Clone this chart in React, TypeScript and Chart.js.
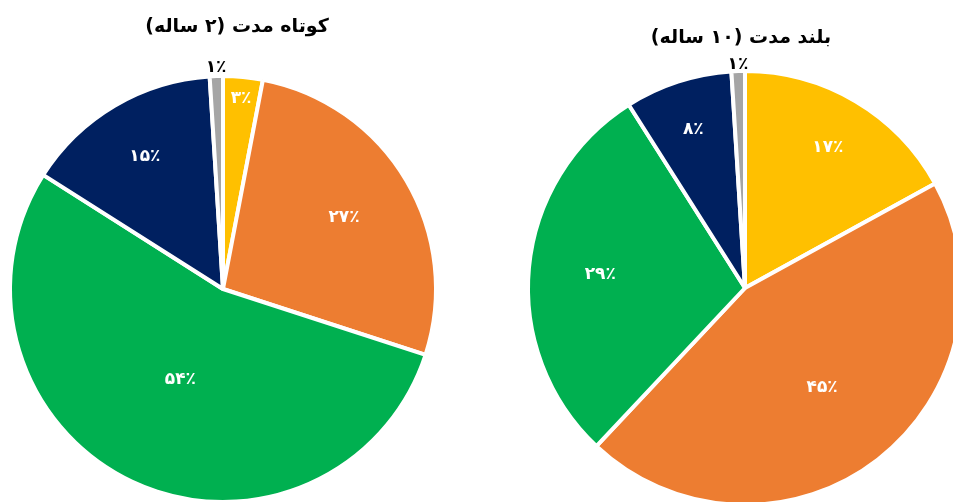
import React, { useEffect, useRef } from "react";
import { Chart, registerables } from "chart.js";

Chart.register(...registerables);

const categories = ["زرد", "نارنجی", "سبز", "سرمه‌ای", "خاکستری"];
const shortTermValues = [3, 27, 54, 15, 1];
const longTermValues = [17, 45, 29, 8, 1];
const shortTermTitle = "کوتاه مدت (۲ ساله)";
const longTermTitle = "بلند مدت (۱۰ ساله)";

const COLORS = ["#FFC000", "#ED7D31", "#00B050", "#002060", "#A5A5A5"];
const LABEL_COLORS = ["#FFFFFF", "#FFFFFF", "#FFFFFF", "#FFFFFF", "#000000"];

const toPersian = (n: number) =>
  String(n).replace(/\d/g, (d) => "۰۱۲۳۴۵۶۷۸۹"[Number(d)]);

const CW = 1000;
const CH = 560;

type PieCfg = {
  values: number[];
  title: string;
  titleX: number;
  titleY: number;
  padding: { left: number; right: number; top: number; bottom: number };
  radius: number;
  labelFrac: number[];
};

const labelPlugin = {
  id: "pieLabels",
  afterDatasetsDraw(chart: any) {
    const ctx = chart.ctx;
    const cfg = chart.options.plugins.pieLabels;
    const meta = chart.getDatasetMeta(0);
    const data = chart.data.datasets[0].data as number[];
    ctx.save();
    ctx.font = "bold 17px 'DejaVu Sans'";
    ctx.textAlign = "center";
    ctx.textBaseline = "middle";
    meta.data.forEach((arc: any, i: number) => {
      const { x, y, startAngle, endAngle, outerRadius } = arc.getProps(
        ["x", "y", "startAngle", "endAngle", "outerRadius"],
        true
      );
      const mid = (startAngle + endAngle) / 2;
      const r = outerRadius * cfg.labelFrac[i];
      ctx.fillStyle = LABEL_COLORS[i];
      ctx.fillText(toPersian(data[i]) + "٪", x + Math.cos(mid) * r, y + Math.sin(mid) * r);
    });
    ctx.font = "bold 19px 'DejaVu Sans'";
    ctx.fillStyle = "#000000";
    ctx.direction = "rtl";
    ctx.fillText(cfg.title, cfg.titleX, cfg.titleY);
    ctx.restore();
  },
};

function PieCanvas({ cfg }: { cfg: PieCfg }) {
  const ref = useRef<HTMLCanvasElement>(null);
  useEffect(() => {
    if (!ref.current) return;
    const chart = new Chart(ref.current, {
      type: "pie",
      data: {
        labels: categories,
        datasets: [
          {
            data: cfg.values,
            backgroundColor: COLORS,
            borderColor: "#FFFFFF",
            borderWidth: 4,
          },
        ],
      },
      options: {
        animation: false,
        responsive: false,
        radius: cfg.radius,
        layout: { padding: cfg.padding },
        plugins: {
          legend: { display: false },
          tooltip: { enabled: false },
          title: { display: false },
          pieLabels: cfg,
        } as any,
      } as any,
      plugins: [labelPlugin],
    });
    return () => chart.destroy();
  }, []);
  return (
    <canvas
      ref={ref}
      width={CW}
      height={CH}
      style={{ position: "absolute", left: 0, top: 0, width: CW, height: CH }}
    />
  );
}

const leftCfg: PieCfg = {
  values: shortTermValues,
  title: shortTermTitle,
  titleX: 237,
  titleY: 27,
  padding: { left: 0, right: CW - 446, top: 2 * 289 - CH, bottom: 0 },
  radius: 213,
  labelFrac: [0.9, 0.66, 0.47, 0.72, 1.04],
};

const rightCfg: PieCfg = {
  values: longTermValues,
  title: longTermTitle,
  titleX: 741,
  titleY: 38,
  padding: { left: 2 * 745 - CW, right: 0, top: 2 * 288 - CH, bottom: 0 },
  radius: 217,
  labelFrac: [0.75, 0.58, 0.67, 0.77, 1.03],
};

export default function App() {
  return (
    <div
      style={{
        position: "fixed",
        left: 0,
        top: 0,
        width: 953,
        height: 502,
        overflow: "hidden",
        background: "#FFFFFF",
      }}
    >
      <PieCanvas cfg={leftCfg} />
      <PieCanvas cfg={rightCfg} />
    </div>
  );
}
